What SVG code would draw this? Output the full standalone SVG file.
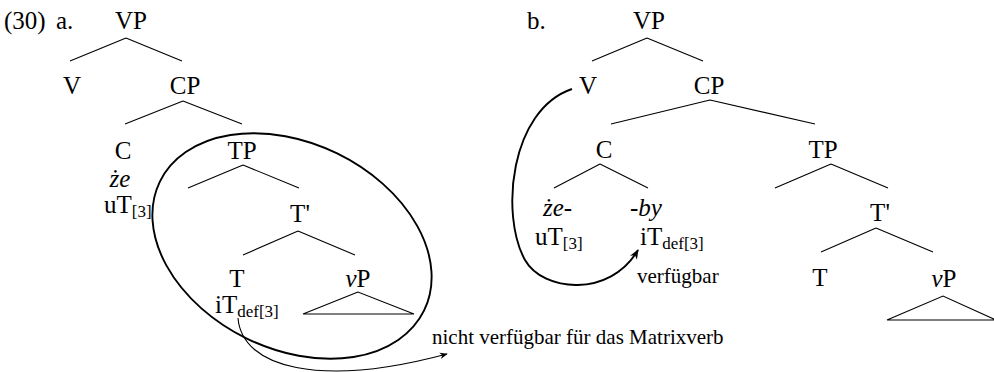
<svg xmlns="http://www.w3.org/2000/svg" width="994" height="372" viewBox="0 0 994 372">
<style>
text{font-family:"Liberation Serif","Times New Roman",serif;font-size:25px;fill:#000}
.m{text-anchor:middle}
.s{font-size:17px}
.n{font-size:21px}
.i{font-style:italic}
.br{stroke:#000;stroke-width:1.1;fill:none}
.th{stroke:#000;stroke-width:1.9;fill:none}
</style>
<defs>
<marker id="ah" viewBox="0 0 10 10" refX="9" refY="5" markerWidth="8" markerHeight="8" orient="auto" markerUnits="userSpaceOnUse">
<path d="M0,1 L10,5 L0,9 L3,5 Z" fill="#000"/>
</marker>
<marker id="ah2" viewBox="0 0 10 10" refX="9" refY="5" markerWidth="10" markerHeight="10" orient="auto" markerUnits="userSpaceOnUse">
<path d="M0,1 L10,5 L0,9 L3,5 Z" fill="#000"/>
</marker>
</defs>
<g id="labels">
<text x="4" y="29">(30)</text>
<text x="56" y="29">a.</text>
<text x="527" y="29">b.</text>
</g>
<g id="connectors">
<path class="br" d="M126,38 L70,61 M126,38 L182,61"/>
<path class="br" d="M183,101 L125,124 M183,101 L242,124"/>
<path class="br" d="M243,165 L188,188 M243,165 L299,188"/>
<path class="br" d="M298,231 L243,255 M298,231 L355,255"/>
<path class="br" d="M358,292 L303,314 L414,314 Z"/>
<ellipse class="th" cx="292" cy="246" rx="147" ry="103" transform="rotate(26 292 246)"/>
<path class="br" d="M238,318 C242,368 320,388 447,354" marker-end="url(#ah)"/>
<path class="br" d="M647,38 L592,61 M647,38 L703,61"/>
<path class="br" d="M710,100 L611,124 M710,100 L815,124"/>
<path class="br" d="M600,164 L554,188 M600,164 L648,188"/>
<path class="br" d="M831,164 L775,188 M831,164 L888,188"/>
<path class="br" d="M876,228 L821,252 M876,228 L933,252"/>
<path class="br" d="M996,320 L943,296 L887,320 L996,320"/>
<path class="th" d="M572,89 C510,110 500,215 525,260 C543,292 610,298 638,250" marker-end="url(#ah2)"/>
</g>
<g id="node-a-VP"><text class="m" x="131" y="29">VP</text></g>
<g id="node-a-V"><text class="m" x="72" y="94">V</text></g>
<g id="node-a-CP"><text class="m" x="185" y="94">CP</text></g>
<g id="node-a-C"><text class="m" x="123" y="159">C</text><text class="m i" x="120" y="187">że</text><text x="104" y="213">uT<tspan class="s" dy="4">[3]</tspan></text></g>
<g id="node-a-TP"><text class="m" x="242" y="159">TP</text></g>
<g id="node-a-Tbar"><text class="m" x="300" y="222">T'</text></g>
<g id="node-a-T"><text class="m" x="237" y="287">T</text><text x="215" y="313">iT<tspan class="s" dy="4">def[3]</tspan></text></g>
<g id="node-a-vP"><text class="m" x="358" y="287"><tspan class="i">v</tspan>P</text></g>
<g id="note-a"><text class="n" x="432" y="344">nicht verfügbar für das Matrixverb</text></g>
<g id="node-b-VP"><text class="m" x="649" y="29">VP</text></g>
<g id="node-b-V"><text class="m" x="588" y="94">V</text></g>
<g id="node-b-CP"><text class="m" x="709" y="94">CP</text></g>
<g id="node-b-C"><text class="m" x="604" y="158">C</text></g>
<g id="node-b-ze"><text class="i" x="543" y="216">że-</text><text x="535" y="245">uT<tspan class="s" dy="4">[3]</tspan></text></g>
<g id="node-b-by"><text class="i" x="630" y="216">-by</text><text x="640" y="245">iT<tspan class="s" dy="4">def[3]</tspan></text><text class="n" x="637" y="283">verfügbar</text></g>
<g id="node-b-TP"><text class="m" x="823" y="158">TP</text></g>
<g id="node-b-Tbar"><text class="m" x="880" y="221">T'</text></g>
<g id="node-b-T"><text class="m" x="820" y="286">T</text></g>
<g id="node-b-vP"><text class="m" x="944" y="287"><tspan class="i">v</tspan>P</text></g>
</svg>
